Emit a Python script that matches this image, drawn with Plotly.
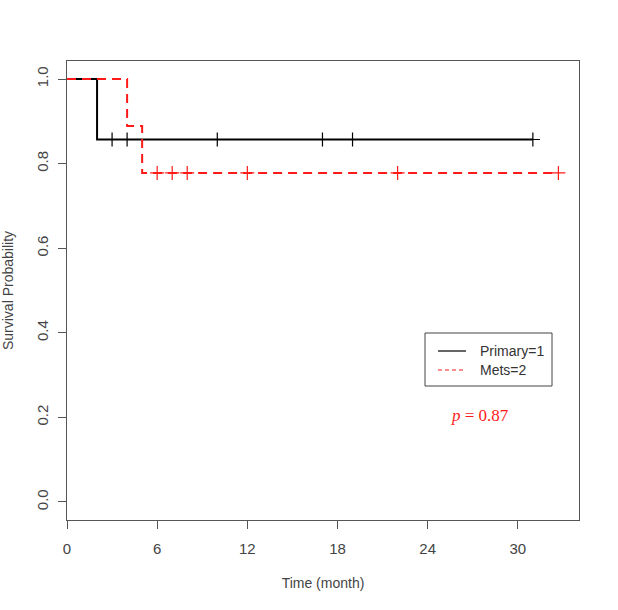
import plotly.graph_objects as go
import numpy as np

# Kaplan-Meier steps
primary_time = [0, 2, 31]
primary_surv = [1.0, 0.857, 0.857]
primary_cens = [3, 4, 10, 17, 19, 31]

mets_time = [0, 4, 5, 32.7]
mets_surv = [1.0, 0.889, 0.778, 0.778]
mets_cens = [6, 7, 8, 12, 22, 32.7]

x_ticks = [0, 6, 12, 18, 24, 30]
y_ticks = [0.0, 0.2, 0.4, 0.6, 0.8, 1.0]
y_ticklabels = ["0.0", "0.2", "0.4", "0.6", "0.8", "1.0"]

series_names = ["Primary=1", "Mets=2"]
RED = "#ff1a1a"

# plot area geometry in px (for legend placement in paper coords)
L, R, T, B = 67, 579, 61, 520
W_, H_ = R - L, B - T


def px(x):
    return (x - L) / W_


def py(y):
    return 1 - (y - T) / H_


def surv_at(times, survs, t):
    idx = np.searchsorted(times, t, side="right") - 1
    return survs[idx]


fig = go.Figure()

fig.add_trace(go.Scatter(x=primary_time, y=primary_surv, mode="lines", line_shape="hv",
                         line=dict(color="black", width=2), name=series_names[0], showlegend=False))
fig.add_trace(go.Scatter(x=mets_time, y=mets_surv, mode="lines", line_shape="hv",
                         line=dict(color=RED, width=2, dash="9px,6px"), name=series_names[1],
                         showlegend=False))

fig.add_trace(go.Scatter(x=primary_cens, y=[surv_at(primary_time, primary_surv, t) for t in primary_cens],
                         mode="markers", showlegend=False,
                         marker=dict(symbol="cross-thin", size=10, line=dict(color="black", width=1.2))))
fig.add_trace(go.Scatter(x=mets_cens, y=[surv_at(mets_time, mets_surv, t) for t in mets_cens],
                         mode="markers", showlegend=False,
                         marker=dict(symbol="cross-thin", size=10, line=dict(color=RED, width=1.2))))

# Legend box (drawn like R's legend())
fig.add_shape(type="rect", xref="paper", yref="paper", x0=px(425), x1=px(552), y0=py(386), y1=py(333),
              line=dict(color="#444", width=1), fillcolor="white", layer="above")
fig.add_shape(type="line", xref="paper", yref="paper", x0=px(438), x1=px(466), y0=py(351), y1=py(351),
              line=dict(color="black", width=1.2), layer="above")
fig.add_shape(type="line", xref="paper", yref="paper", x0=px(438), x1=px(466), y0=py(370), y1=py(370),
              line=dict(color=RED, width=1, dash="4px,3px"), layer="above")
for name, yy in zip(series_names, [351, 370]):
    fig.add_annotation(x=px(478), y=py(yy), xref="paper", yref="paper", text=name, showarrow=False,
                       xanchor="left", yanchor="middle",
                       font=dict(family="Liberation Sans", size=14, color="#333"))

fig.add_annotation(x=27.5, y=0.205, xref="x", yref="y", text="<i>p</i> = 0.87", showarrow=False,
                   font=dict(family="Liberation Serif", size=17, color=RED))

axis_common = dict(showline=True, linecolor="#555", linewidth=1, mirror=True, ticks="outside",
                   ticklen=8, tickcolor="#555", showgrid=False, zeroline=False, automargin=False,
                   tickfont=dict(family="Liberation Sans", size=15, color="#444"))

fig.update_xaxes(range=[0, 34.07], tickvals=x_ticks, ticklabelstandoff=7, **axis_common,
                 title=dict(text="Time (month)", standoff=22,
                            font=dict(family="Liberation Sans", size=14, color="#444")))
fig.update_yaxes(range=[-0.0426, 1.0426], tickvals=y_ticks, ticktext=y_ticklabels, tickangle=-90,
                 ticklabelstandoff=4, **axis_common,
                 title=dict(text="Survival Probability", standoff=22,
                            font=dict(family="Liberation Sans", size=14, color="#444")))

fig.update_layout(
    width=618, height=610,
    margin=dict(l=67, r=39, t=61, b=90),
    paper_bgcolor="white", plot_bgcolor="white",
    showlegend=False,
)

fig.write_html("out.html")
